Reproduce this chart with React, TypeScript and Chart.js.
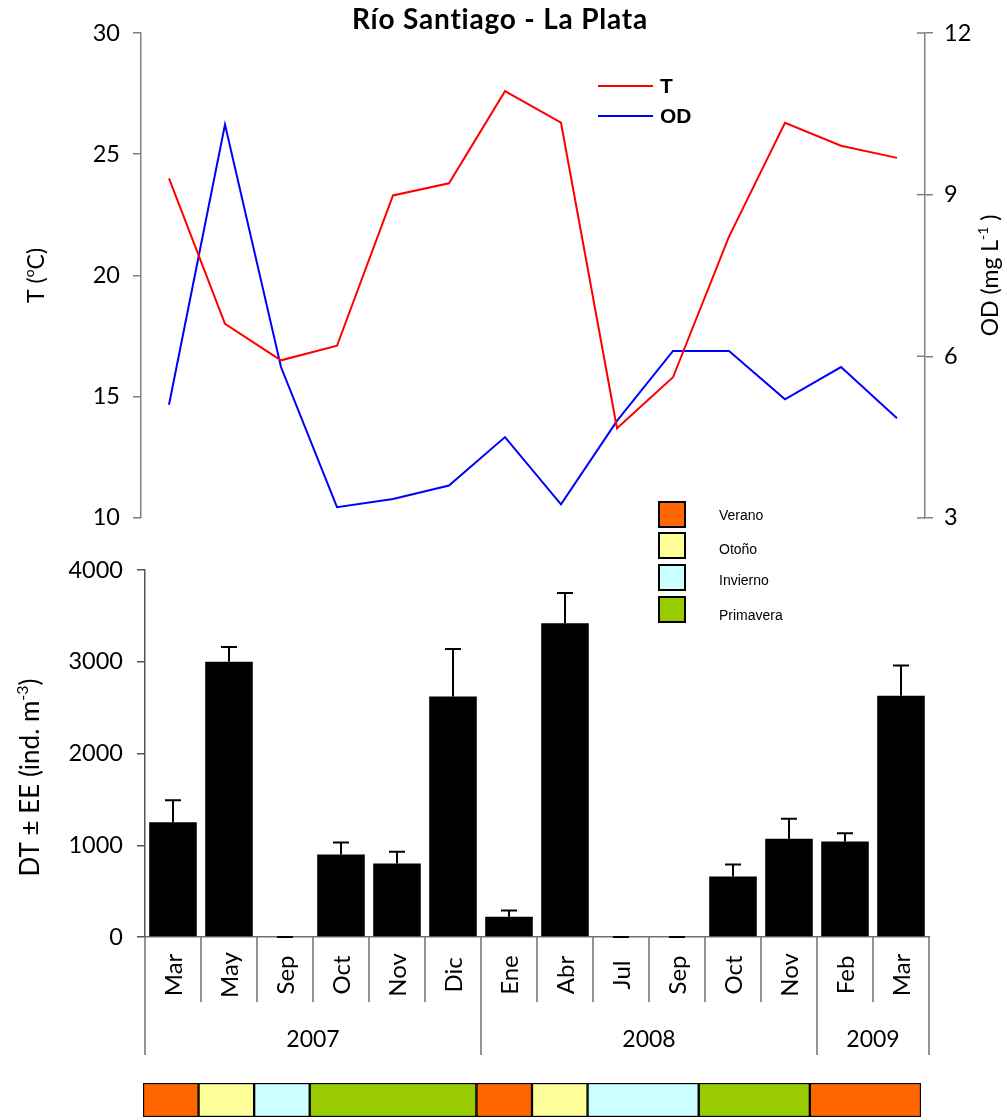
import React, { useEffect, useRef } from 'react';
import { Chart, registerables } from 'chart.js';

Chart.register(...registerables);

// Sampling dates (month, year)
const months = ['Mar', 'May', 'Sep', 'Oct', 'Nov', 'Dic', 'Ene', 'Abr', 'Jul', 'Sep', 'Oct', 'Nov', 'Feb', 'Mar'];
const years = ['2007', '2007', '2007', '2007', '2007', '2007', '2008', '2008', '2008', '2008', '2008', '2008', '2009', '2009'];

// Water temperature (°C) and dissolved oxygen (mg L-1)
const temperature = [24.0, 18.0, 16.5, 17.1, 23.3, 23.8, 27.6, 26.3, 13.7, 15.8, 21.6, 26.3, 25.35, 24.85];
const oxygen = [5.1, 10.3, 5.8, 3.2, 3.35, 3.6, 4.5, 3.25, 4.8, 6.1, 6.1, 5.2, 5.8, 4.85];

// Total density (ind. m-3) and standard error
const density = [1250, 3000, 0, 900, 800, 2620, 220, 3420, 0, 0, 660, 1070, 1040, 2630];
const densityErr = [240, 160, 0, 130, 130, 520, 70, 330, 0, 0, 130, 220, 90, 330];

// Season of each sampling date
const seasons = ['Verano', 'Otoño', 'Invierno', 'Primavera', 'Primavera', 'Primavera', 'Verano', 'Otoño', 'Invierno', 'Invierno', 'Primavera', 'Primavera', 'Verano', 'Verano'];
const seasonNames = ['Verano', 'Otoño', 'Invierno', 'Primavera'];
const seasonColors = ['#FF6600', '#FFFF99', '#CCFFFF', '#99CC00'];

// Axis ranges [min, max, step]
const tempRange = [10, 30, 5];
const oxygenRange = [3, 12, 3];
const densityRange = [0, 4000, 1000];

const FAMILY = 'Lato, "Liberation Sans", sans-serif';
const tickFont = { family: FAMILY, size: 23.5 };

type Part = { t: string; sup?: boolean };

// Text rotated a quarter turn, centred on (cx, cy), with optional superscripts
function drawRotated(ctx: CanvasRenderingContext2D, parts: Part[], cx: number, cy: number, size: number) {
  ctx.save();
  ctx.translate(cx, cy);
  ctx.rotate(-Math.PI / 2);
  ctx.textAlign = 'left';
  ctx.textBaseline = 'alphabetic';
  ctx.fillStyle = '#000';
  const fonts = parts.map((p) => `${p.sup ? Math.round(size * 0.62) : size}px ${FAMILY}`);
  let total = 0;
  const widths = parts.map((p, i) => {
    ctx.font = fonts[i];
    const w = ctx.measureText(p.t).width;
    total += w;
    return w;
  });
  let x = -total / 2;
  parts.forEach((p, i) => {
    ctx.font = fonts[i];
    ctx.fillText(p.t, x, size * 0.36 + (p.sup ? -size * 0.45 : 0));
    x += widths[i];
  });
  ctx.restore();
}

// Groups consecutive equal entries into runs
function runsOf(values: string[]) {
  const runs: { value: string; start: number; count: number }[] = [];
  values.forEach((v, i) => {
    const last = runs[runs.length - 1];
    if (last && last.value === v) last.count += 1;
    else runs.push({ value: v, start: i, count: 1 });
  });
  return runs;
}

const topDecor = {
  id: 'topDecor',
  afterDraw(chart: any) {
    const { ctx, chartArea } = chart;
    const y1 = chart.scales.y1;
    // inner half of the right-axis tick marks
    ctx.save();
    ctx.strokeStyle = '#808080';
    ctx.lineWidth = 1.5;
    y1.ticks.forEach((_: any, i: number) => {
      const py = y1.getPixelForTick(i);
      ctx.beginPath();
      ctx.moveTo(chartArea.right - 8, py);
      ctx.lineTo(chartArea.right, py);
      ctx.stroke();
    });
    ctx.restore();

    // title
    ctx.save();
    ctx.fillStyle = '#000';
    ctx.font = `bold 28px ${FAMILY}`;
    (ctx as any).letterSpacing = '0.8px';
    ctx.textAlign = 'center';
    ctx.textBaseline = 'middle';
    ctx.fillText('Río Santiago - La Plata', 500, 20);
    ctx.restore();

    // axis titles
    const mid = (chartArea.top + chartArea.bottom) / 2;
    drawRotated(ctx, [{ t: 'T (' }, { t: 'o', sup: true }, { t: 'C)' }], 36, mid, 23);
    drawRotated(ctx, [{ t: 'OD (mg L' }, { t: '-1', sup: true }, { t: ' )' }], 990, mid, 23);

    // legend
    const items = [
      { label: 'T', color: '#FF0000', y: 86 },
      { label: 'OD', color: '#0000FF', y: 116 },
    ];
    ctx.save();
    items.forEach((it) => {
      ctx.strokeStyle = it.color;
      ctx.lineWidth = 2;
      ctx.beginPath();
      ctx.moveTo(598, it.y);
      ctx.lineTo(653, it.y);
      ctx.stroke();
      ctx.fillStyle = '#000';
      ctx.font = 'bold 21px "Liberation Sans", Arial, sans-serif';
      ctx.textAlign = 'left';
      ctx.textBaseline = 'middle';
      ctx.fillText(it.label, 660, it.y + 1);
    });
    ctx.restore();
  },
};

const bottomDecor = {
  id: 'bottomDecor',
  afterDatasetsDraw(chart: any) {
    const { ctx } = chart;
    const meta = chart.getDatasetMeta(0);
    const ys = chart.scales.y;
    ctx.save();
    ctx.strokeStyle = '#000';
    ctx.lineWidth = 2;
    meta.data.forEach((bar: any, i: number) => {
      const base = ys.getPixelForValue(density[i]);
      const top = ys.getPixelForValue(density[i] + densityErr[i]);
      ctx.beginPath();
      ctx.moveTo(bar.x, base);
      ctx.lineTo(bar.x, top);
      ctx.moveTo(bar.x - 8, top);
      ctx.lineTo(bar.x + 8, top);
      ctx.stroke();
    });
    ctx.restore();
  },
  afterDraw(chart: any) {
    const { ctx, chartArea } = chart;
    const n = months.length;
    const left = chartArea.left;
    const w = (chartArea.right - chartArea.left) / n;
    const base = chartArea.bottom;

    // category separators, longer at year boundaries
    const yearRuns = runsOf(years);
    const yearEdges = new Set<number>([0, n]);
    yearRuns.forEach((r) => yearEdges.add(r.start));
    ctx.save();
    ctx.strokeStyle = '#707070';
    ctx.lineWidth = 1.5;
    for (let i = 0; i <= n; i++) {
      const x = left + i * w;
      ctx.beginPath();
      ctx.moveTo(x, base);
      ctx.lineTo(x, yearEdges.has(i) ? base + 118 : base + 65);
      ctx.stroke();
    }
    ctx.restore();

    // month labels, centred in their row
    months.forEach((m, i) => {
      drawRotated(ctx, [{ t: m }], left + (i + 0.5) * w, base + 38, 24);
    });

    // year labels
    ctx.save();
    ctx.fillStyle = '#000';
    ctx.font = `23px ${FAMILY}`;
    ctx.textAlign = 'center';
    ctx.textBaseline = 'middle';
    yearRuns.forEach((r) => {
      ctx.fillText(r.value, left + (r.start + r.count / 2) * w, base + 103);
    });
    ctx.restore();

    // y axis title
    drawRotated(ctx, [{ t: 'DT ± EE (ind. m' }, { t: '-3', sup: true }, { t: ')' }], 30, (chartArea.top + chartArea.bottom) / 2 + 24, 26);

    // season legend
    ctx.save();
    const boxes = [12, 43, 75, 107];
    const texts = [26, 60, 91, 126];
    seasonNames.forEach((name, i) => {
      ctx.fillStyle = seasonColors[i];
      ctx.fillRect(659, boxes[i], 26, 25);
      ctx.strokeStyle = '#000';
      ctx.lineWidth = 2;
      ctx.strokeRect(659, boxes[i], 26, 25);
      ctx.fillStyle = '#000';
      ctx.font = '14px "Liberation Sans Narrow", "Liberation Sans", Arial, sans-serif';
      ctx.textAlign = 'left';
      ctx.textBaseline = 'middle';
      ctx.fillText(name, 719, texts[i]);
    });
    ctx.restore();
  },
};

export default function App() {
  const topRef = useRef<HTMLCanvasElement>(null);
  const botRef = useRef<HTMLCanvasElement>(null);
  const stripRef = useRef<HTMLCanvasElement>(null);

  useEffect(() => {
    const axisGrid = (color: string) => ({ drawOnChartArea: false, tickLength: 8, color, lineWidth: 1.5 });
    const plain = (v: any) => String(v);

    const top = new Chart(topRef.current as HTMLCanvasElement, {
      type: 'line',
      data: {
        labels: months,
        datasets: [
          { label: 'T', data: temperature, borderColor: '#FF0000', borderWidth: 2, pointRadius: 0, yAxisID: 'y', tension: 0 },
          { label: 'OD', data: oxygen, borderColor: '#0000FF', borderWidth: 2, pointRadius: 0, yAxisID: 'y1', tension: 0 },
        ],
      },
      options: {
        animation: false,
        responsive: false,
        layout: { padding: { top: 33, bottom: 17, left: 0, right: 0 } },
        plugins: { legend: { display: false }, tooltip: { enabled: false }, title: { display: false } },
        scales: {
          x: { display: false, offset: true },
          y: {
            position: 'left',
            min: tempRange[0],
            max: tempRange[1],
            ticks: { stepSize: tempRange[2], padding: 13, color: '#000', font: tickFont, callback: plain },
            grid: axisGrid('#808080'),
            border: { color: '#808080', width: 1.5 },
            afterFit: (s: any) => { s.width = 141; },
          },
          y1: {
            position: 'right',
            min: oxygenRange[0],
            max: oxygenRange[1],
            ticks: { stepSize: oxygenRange[2], padding: 11, color: '#000', font: tickFont, callback: plain },
            grid: axisGrid('#808080'),
            border: { color: '#808080', width: 1.5 },
            afterFit: (s: any) => { s.width = 82; },
          },
        },
      } as any,
      plugins: [topDecor],
    });

    const bottom = new Chart(botRef.current as HTMLCanvasElement, {
      type: 'bar',
      data: {
        labels: months,
        datasets: [
          { data: density, backgroundColor: '#000', borderWidth: 0, barPercentage: 0.85, categoryPercentage: 1 },
        ],
      },
      options: {
        animation: false,
        responsive: false,
        layout: { padding: { top: 80, bottom: 0, left: 0, right: 78 } },
        plugins: { legend: { display: false }, tooltip: { enabled: false } },
        scales: {
          x: {
            ticks: { display: false },
            grid: { display: false, drawTicks: false },
            border: { display: true, color: '#707070', width: 1.5 },
            afterFit: (s: any) => { s.height = 138; },
          },
          y: {
            min: densityRange[0],
            max: densityRange[1],
            ticks: { stepSize: densityRange[2], padding: 14, color: '#000', font: tickFont, callback: plain },
            grid: axisGrid('#555'),
            border: { color: '#555', width: 1.5 },
            afterFit: (s: any) => { s.width = 145; },
          },
        },
      } as any,
      plugins: [bottomDecor],
    });

    const seasonRuns = runsOf(seasons);
    const strip = new Chart(stripRef.current as HTMLCanvasElement, {
      type: 'bar',
      data: {
        labels: [''],
        datasets: seasonRuns.map((r) => ({
          data: [r.count],
          backgroundColor: seasonColors[seasonNames.indexOf(r.value)],
          borderColor: '#000',
          borderWidth: 1.5,
          borderSkipped: false,
          barPercentage: 1,
          categoryPercentage: 1,
        })),
      },
      options: {
        animation: false,
        responsive: false,
        indexAxis: 'y',
        layout: { padding: { top: 8, bottom: 3, left: 143, right: 86 } },
        plugins: { legend: { display: false }, tooltip: { enabled: false } },
        scales: {
          x: { stacked: true, display: false, min: 0, max: seasons.length },
          y: { stacked: true, display: false },
        },
      } as any,
    });

    return () => {
      top.destroy();
      bottom.destroy();
      strip.destroy();
    };
  }, []);

  return (
    <div style={{ position: 'absolute', left: 0, top: 0, width: 1007, height: 1120, background: '#fff', overflow: 'hidden' }}>
      <canvas ref={topRef} width={1007} height={545} style={{ position: 'absolute', left: 0, top: 0 }} />
      <canvas ref={botRef} width={1007} height={585} style={{ position: 'absolute', left: 0, top: 490 }} />
      <canvas ref={stripRef} width={1007} height={45} style={{ position: 'absolute', left: 0, top: 1075 }} />
    </div>
  );
}
